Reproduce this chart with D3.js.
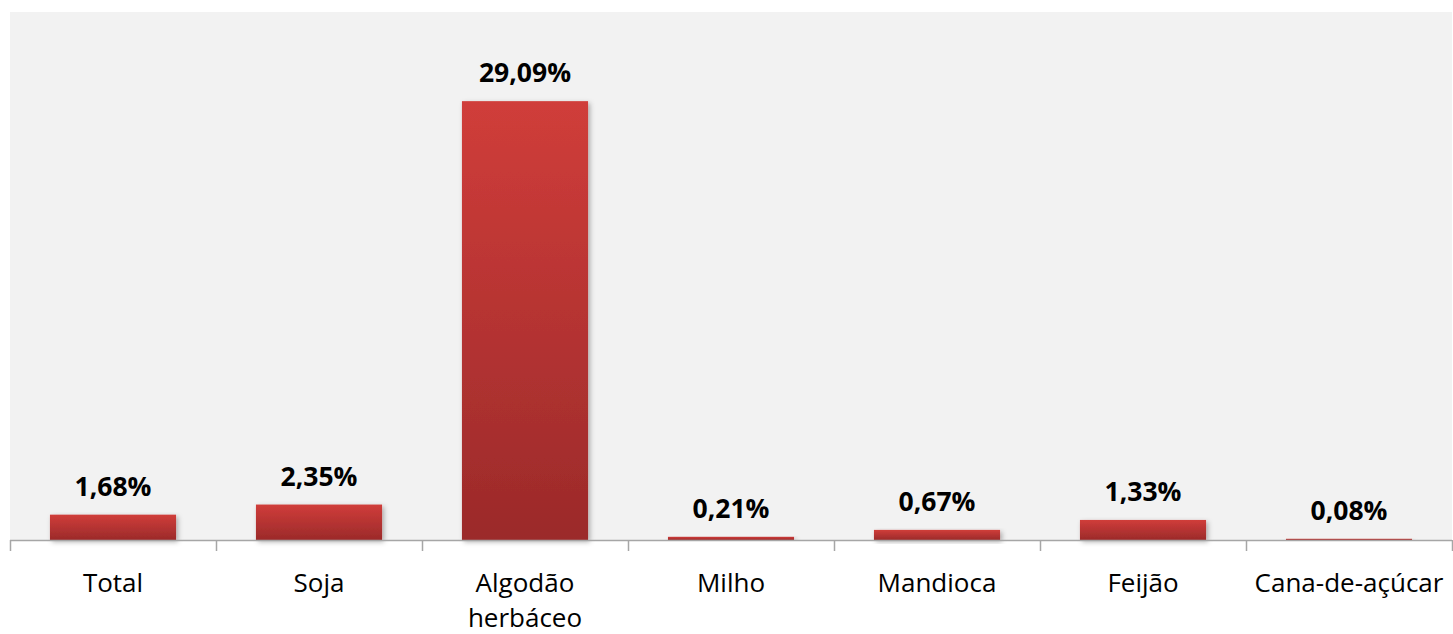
<!DOCTYPE html>
<html><head><meta charset="utf-8">
<script src="https://cdn.jsdelivr.net/npm/d3@7"></script>
<style>
html,body{margin:0;padding:0;background:#fff;}
svg{display:block;}
</style></head>
<body>
<svg id="chart" width="1453" height="634"></svg>
<script>
const categories = ["Total", "Soja", "Algodão herbáceo", "Milho", "Mandioca", "Feijão", "Cana-de-açúcar"];
const categoryLines = [["Total"], ["Soja"], ["Algodão", "herbáceo"], ["Milho"], ["Mandioca"], ["Feijão"], ["Cana-de-açúcar"]];
const values = [1.68, 2.35, 29.09, 0.21, 0.67, 1.33, 0.08];
const valueLabels = ["1,68%", "2,35%", "29,09%", "0,21%", "0,67%", "1,33%", "0,08%"];
const yDomain = [0, 35];

const svg = d3.select("#chart");
const plotLeft = 10, plotRight = 1452, plotTop = 12, plotBottom = 540;

const defs = svg.append("defs");
const grad = defs.append("linearGradient").attr("id", "barGrad")
  .attr("x1", 0).attr("y1", 0).attr("x2", 0).attr("y2", 1);
grad.append("stop").attr("offset", "0%").attr("stop-color", "#d03d3a");
grad.append("stop").attr("offset", "100%").attr("stop-color", "#9b2a2a");
const f = defs.append("filter").attr("id", "shadow").attr("x", "-10%").attr("y", "-10%").attr("width", "130%").attr("height", "140%");
f.append("feDropShadow").attr("dx", 2).attr("dy", 2).attr("stdDeviation", 2.5)
  .attr("flood-color", "#000").attr("flood-opacity", 0.3);

const x = d3.scaleBand().domain(categories).range([plotLeft, plotRight]).paddingInner(0.388).paddingOuter(0.194);
const y = d3.scaleLinear().domain(yDomain).range([plotBottom, plotTop]);

svg.append("rect").attr("x", plotLeft).attr("y", plotTop).attr("width", plotRight - plotLeft).attr("height", plotBottom - plotTop)
  .attr("fill", "#f2f2f2");

const data = categories.map((c, i) => ({c, v: values[i], label: valueLabels[i], lines: categoryLines[i]}));

svg.append("g").selectAll("rect").data(data).join("rect")
  .attr("x", d => x(d.c)).attr("width", x.bandwidth())
  .attr("y", d => y(d.v)).attr("height", d => y(0) - y(d.v))
  .attr("fill", "url(#barGrad)").attr("filter", "url(#shadow)");

// axis line and ticks at category boundaries
const boundaries = categories.map(c => x(c) - (x.step() - x.bandwidth()) / 2).concat([plotRight]);
const axisG = svg.append("g");
axisG.append("line").attr("x1", plotLeft).attr("x2", plotRight).attr("y1", plotBottom + 0.5).attr("y2", plotBottom + 0.5)
  .attr("stroke", "#a6a6a6").attr("stroke-width", 1.5);
axisG.selectAll("line.tick").data(boundaries).join("line").attr("class", "tick")
  .attr("x1", d => Math.round(d) + 0.5).attr("x2", d => Math.round(d) + 0.5)
  .attr("y1", plotBottom).attr("y2", plotBottom + 11)
  .attr("stroke", "#a6a6a6").attr("stroke-width", 1.5);

// category labels
const catG = svg.append("g").attr("font-family", "'Open Sans', sans-serif").attr("font-size", 26).attr("fill", "#000");
catG.selectAll("text").data(data).join("text")
  .attr("text-anchor", "middle")
  .attr("x", d => x(d.c) + x.bandwidth() / 2)
  .attr("y", 592)
  .each(function(d) {
    d3.select(this).selectAll("tspan").data(d.lines).join("tspan")
      .attr("x", x(d.c) + x.bandwidth() / 2)
      .attr("dy", (l, i) => i === 0 ? 0 : 35)
      .text(l => l);
  });

// value labels
svg.append("g").attr("font-family", "'Open Sans', sans-serif").attr("font-size", 26.5).attr("font-weight", "bold").attr("fill", "#000")
  .selectAll("text").data(data).join("text")
  .attr("text-anchor", "middle")
  .attr("x", d => x(d.c) + x.bandwidth() / 2)
  .attr("y", d => y(d.v) - 19)
  .text(d => d.label);
</script>
</body></html>
